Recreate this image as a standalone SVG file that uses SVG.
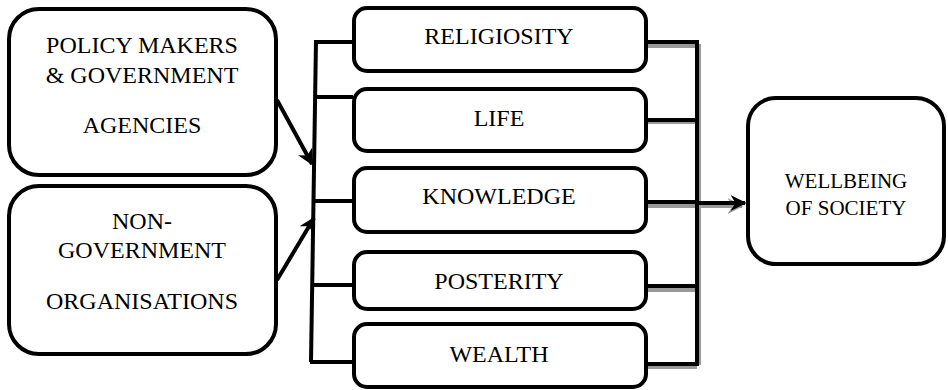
<svg xmlns="http://www.w3.org/2000/svg" width="948" height="390" viewBox="0 0 948 390">
<style>
.box{fill:#fff;stroke:#000;stroke-width:4}
.ln{fill:none;stroke:#000;stroke-width:4}
.sh{fill:none;stroke:#999;stroke-width:4}
</style>
<defs>
<marker id="ah" viewBox="0 0 10 10" refX="9" refY="5" markerWidth="4" markerHeight="4" orient="auto" markerUnits="strokeWidth">
<path d="M0,0 L10,5 L0,10 L3,5 Z" fill="#000"/>
</marker>
<marker id="ahs" viewBox="0 0 10 10" refX="9" refY="5" markerWidth="4" markerHeight="4" orient="auto" markerUnits="strokeWidth">
<path d="M0,0 L10,5 L0,10 L3,5 Z" fill="#999"/>
</marker>
</defs>
<g id="connectors">
<path class="sh" d="M648,46 H697 M648,122 H697 M648,206 H697 M648,290 H697 M648,367 H697"/>
<path class="sh" d="M700,206 H742" marker-end="url(#ahs)"/>
<path class="sh" d="M699,44 V365"/>
<path class="ln" d="M316,40 L311,362"/>
<path class="ln" d="M315,42 H353 M315,97 H353 M313,201 H353 M312,285 H353 M310,362 H353"/>
<path class="ln" d="M277,100 L312,164" marker-end="url(#ah)"/>
<path class="ln" d="M277,280 L314,218" marker-end="url(#ah)"/>
<path class="ln" d="M646,42 H697 V364 H646"/>
<path class="ln" d="M646,120 H697 M646,202 H697 M646,286 H697"/>
<path class="ln" d="M697,203 H745" marker-end="url(#ah)"/>
</g>
<g font-family="Liberation Serif, Times New Roman, serif" font-size="24" text-anchor="middle" fill="#000">
<g id="policy">
<rect class="box" x="9" y="9" width="267" height="166" rx="30"/>
<text x="142" y="53">POLICY MAKERS</text>
<text x="142" y="83">&amp; GOVERNMENT</text>
<text x="142" y="133">AGENCIES</text>
</g>
<g id="ngo">
<rect class="box" x="9" y="186" width="267" height="168" rx="30"/>
<text x="142" y="229">NON-</text>
<text x="142" y="258">GOVERNMENT</text>
<text x="142" y="309">ORGANISATIONS</text>
</g>
<g id="religiosity">
<rect class="box" x="354" y="8" width="292" height="63" rx="13"/>
<text x="499" y="44">RELIGIOSITY</text>
</g>
<g id="life">
<rect class="box" x="354" y="89" width="292" height="62" rx="13"/>
<text x="499" y="126">LIFE</text>
</g>
<g id="knowledge">
<rect class="box" x="354" y="168" width="292" height="64" rx="13"/>
<text x="499" y="204">KNOWLEDGE</text>
</g>
<g id="posterity">
<rect class="box" x="354" y="252" width="292" height="57" rx="13"/>
<text x="499" y="289">POSTERITY</text>
</g>
<g id="wealth">
<rect class="box" x="354" y="324" width="292" height="63" rx="13"/>
<text x="499" y="362">WEALTH</text>
</g>
<g id="wellbeing">
<rect class="box" x="748" y="98" width="196" height="166" rx="28"/>
<text x="846" y="188" font-size="21">WELLBEING</text>
<text x="846" y="215" font-size="21">OF SOCIETY</text>
</g>
</g>
</svg>
